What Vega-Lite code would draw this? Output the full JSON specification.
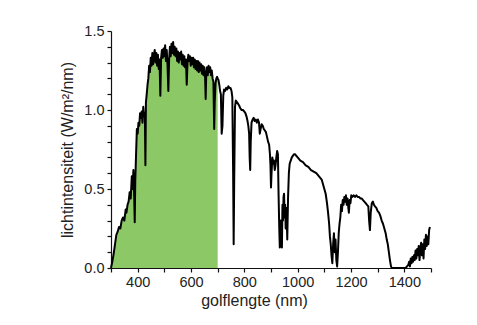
{
  "$schema": "https://vega.github.io/schema/vega-lite/v6.json",
  "width": 320,
  "height": 237,
  "autosize": {"type": "none"},
  "padding": {"left": 111, "top": 31, "right": 46, "bottom": 57},
  "background": "white",
  "config": {
    "view": {"stroke": null},
    "font": "Liberation Sans",
    "axis": {
      "grid": false,
      "domainColor": "#111",
      "domainWidth": 1.2,
      "tickColor": "#111",
      "tickWidth": 1.2,
      "tickSize": 4,
      "labelFont": "Liberation Sans",
      "labelFontSize": 14.5,
      "labelColor": "#222",
      "labelOverlap": false,
      "labelFlush": false,
      "titleFont": "Liberation Sans",
      "titleFontSize": 16,
      "titleFontWeight": "normal",
      "titleColor": "#222"
    }
  },
  "data": {
    "values": [
      {"nm":300,"v":0.0},{"nm":305,"v":0.04},{"nm":310,"v":0.09},{"nm":315,"v":0.15},{"nm":320,"v":0.21},{"nm":325,"v":0.23},{"nm":330,"v":0.26},{"nm":335,"v":0.25},{"nm":340,"v":0.30},{"nm":345,"v":0.32},{"nm":350,"v":0.30},{"nm":355,"v":0.37},{"nm":358,"v":0.35},{"nm":362,"v":0.40},{"nm":366,"v":0.42},{"nm":370,"v":0.48},{"nm":374,"v":0.44},{"nm":378,"v":0.58},{"nm":381,"v":0.50},{"nm":384,"v":0.62},{"nm":387,"v":0.45},{"nm":389,"v":0.29},{"nm":391,"v":0.55},{"nm":394,"v":0.72},{"nm":397,"v":0.88},{"nm":400,"v":0.85},{"nm":403,"v":0.92},{"nm":406,"v":0.90},{"nm":409,"v":0.98},{"nm":412,"v":0.95},{"nm":415,"v":0.99},{"nm":418,"v":0.92},{"nm":421,"v":1.02},{"nm":424,"v":0.96},{"nm":427,"v":0.98},{"nm":429,"v":0.65},{"nm":431,"v":1.05},{"nm":434,"v":1.10},{"nm":437,"v":1.16},{"nm":440,"v":1.20},{"nm":443,"v":1.28},{"nm":446,"v":1.24},{"nm":449,"v":1.33},{"nm":452,"v":1.28},{"nm":455,"v":1.36},{"nm":458,"v":1.29},{"nm":461,"v":1.35},{"nm":464,"v":1.38},{"nm":467,"v":1.30},{"nm":470,"v":1.36},{"nm":473,"v":1.28},{"nm":476,"v":1.35},{"nm":479,"v":1.26},{"nm":482,"v":1.32},{"nm":485,"v":1.09},{"nm":488,"v":1.33},{"nm":491,"v":1.38},{"nm":494,"v":1.33},{"nm":497,"v":1.39},{"nm":500,"v":1.34},{"nm":503,"v":1.41},{"nm":506,"v":1.31},{"nm":509,"v":1.38},{"nm":512,"v":1.28},{"nm":515,"v":1.12},{"nm":518,"v":1.32},{"nm":521,"v":1.40},{"nm":524,"v":1.34},{"nm":527,"v":1.42},{"nm":530,"v":1.36},{"nm":533,"v":1.43},{"nm":536,"v":1.35},{"nm":539,"v":1.40},{"nm":542,"v":1.34},{"nm":545,"v":1.39},{"nm":548,"v":1.31},{"nm":551,"v":1.37},{"nm":554,"v":1.30},{"nm":557,"v":1.36},{"nm":560,"v":1.32},{"nm":563,"v":1.37},{"nm":566,"v":1.29},{"nm":569,"v":1.35},{"nm":572,"v":1.28},{"nm":575,"v":1.34},{"nm":578,"v":1.27},{"nm":581,"v":1.32},{"nm":584,"v":1.16},{"nm":587,"v":1.30},{"nm":590,"v":1.35},{"nm":593,"v":1.31},{"nm":596,"v":1.34},{"nm":599,"v":1.28},{"nm":602,"v":1.33},{"nm":605,"v":1.29},{"nm":608,"v":1.33},{"nm":611,"v":1.27},{"nm":614,"v":1.32},{"nm":617,"v":1.26},{"nm":620,"v":1.31},{"nm":623,"v":1.25},{"nm":626,"v":1.31},{"nm":629,"v":1.24},{"nm":632,"v":1.30},{"nm":635,"v":1.25},{"nm":638,"v":1.29},{"nm":641,"v":1.23},{"nm":644,"v":1.28},{"nm":647,"v":1.22},{"nm":650,"v":1.27},{"nm":653,"v":1.20},{"nm":655,"v":1.07},{"nm":657,"v":1.22},{"nm":660,"v":1.27},{"nm":663,"v":1.22},{"nm":666,"v":1.28},{"nm":669,"v":1.24},{"nm":672,"v":1.27},{"nm":675,"v":1.22},{"nm":678,"v":1.25},{"nm":681,"v":1.20},{"nm":684,"v":1.18},{"nm":687,"v":0.88},{"nm":689,"v":1.05},{"nm":692,"v":1.17},{"nm":695,"v":1.20},{"nm":698,"v":1.21},{"nm":700,"v":1.20},{"nm":703,"v":1.19},{"nm":706,"v":1.16},{"nm":709,"v":1.12},{"nm":712,"v":1.10},{"nm":715,"v":0.85},{"nm":718,"v":0.90},{"nm":721,"v":1.09},{"nm":724,"v":1.13},{"nm":728,"v":1.12},{"nm":732,"v":1.14},{"nm":736,"v":1.13},{"nm":740,"v":1.15},{"nm":744,"v":1.14},{"nm":748,"v":1.14},{"nm":752,"v":1.12},{"nm":755,"v":1.08},{"nm":758,"v":0.60},{"nm":760,"v":0.15},{"nm":762,"v":0.55},{"nm":765,"v":1.02},{"nm":768,"v":1.06},{"nm":772,"v":1.05},{"nm":776,"v":1.04},{"nm":780,"v":1.03},{"nm":785,"v":1.01},{"nm":790,"v":1.00},{"nm":795,"v":1.00},{"nm":800,"v":0.99},{"nm":804,"v":0.98},{"nm":808,"v":0.96},{"nm":812,"v":0.93},{"nm":815,"v":0.90},{"nm":818,"v":0.85},{"nm":820,"v":0.70},{"nm":822,"v":0.62},{"nm":824,"v":0.80},{"nm":827,"v":0.92},{"nm":831,"v":0.94},{"nm":835,"v":0.95},{"nm":839,"v":0.93},{"nm":843,"v":0.94},{"nm":847,"v":0.92},{"nm":851,"v":0.94},{"nm":855,"v":0.92},{"nm":858,"v":0.85},{"nm":861,"v":0.88},{"nm":865,"v":0.91},{"nm":869,"v":0.90},{"nm":873,"v":0.88},{"nm":877,"v":0.87},{"nm":881,"v":0.86},{"nm":885,"v":0.83},{"nm":889,"v":0.80},{"nm":893,"v":0.78},{"nm":896,"v":0.72},{"nm":898,"v":0.65},{"nm":900,"v":0.51},{"nm":902,"v":0.60},{"nm":905,"v":0.70},{"nm":908,"v":0.66},{"nm":911,"v":0.68},{"nm":914,"v":0.62},{"nm":917,"v":0.65},{"nm":920,"v":0.70},{"nm":923,"v":0.74},{"nm":926,"v":0.72},{"nm":928,"v":0.50},{"nm":931,"v":0.25},{"nm":933,"v":0.13},{"nm":935,"v":0.14},{"nm":937,"v":0.30},{"nm":939,"v":0.18},{"nm":941,"v":0.13},{"nm":943,"v":0.40},{"nm":945,"v":0.30},{"nm":947,"v":0.45},{"nm":949,"v":0.47},{"nm":951,"v":0.32},{"nm":953,"v":0.40},{"nm":955,"v":0.25},{"nm":958,"v":0.38},{"nm":961,"v":0.18},{"nm":964,"v":0.45},{"nm":967,"v":0.60},{"nm":970,"v":0.66},{"nm":974,"v":0.68},{"nm":978,"v":0.70},{"nm":982,"v":0.71},{"nm":986,"v":0.72},{"nm":990,"v":0.72},{"nm":995,"v":0.71},{"nm":1000,"v":0.70},{"nm":1010,"v":0.68},{"nm":1020,"v":0.67},{"nm":1030,"v":0.65},{"nm":1040,"v":0.64},{"nm":1050,"v":0.62},{"nm":1060,"v":0.61},{"nm":1070,"v":0.60},{"nm":1080,"v":0.58},{"nm":1090,"v":0.56},{"nm":1095,"v":0.53},{"nm":1100,"v":0.50},{"nm":1105,"v":0.47},{"nm":1110,"v":0.41},{"nm":1114,"v":0.35},{"nm":1118,"v":0.28},{"nm":1121,"v":0.20},{"nm":1124,"v":0.15},{"nm":1127,"v":0.08},{"nm":1130,"v":0.03},{"nm":1133,"v":0.15},{"nm":1136,"v":0.22},{"nm":1139,"v":0.10},{"nm":1142,"v":0.18},{"nm":1145,"v":0.05},{"nm":1148,"v":0.01},{"nm":1151,"v":0.10},{"nm":1154,"v":0.22},{"nm":1157,"v":0.28},{"nm":1160,"v":0.32},{"nm":1163,"v":0.40},{"nm":1166,"v":0.36},{"nm":1169,"v":0.43},{"nm":1172,"v":0.40},{"nm":1175,"v":0.45},{"nm":1178,"v":0.42},{"nm":1181,"v":0.46},{"nm":1184,"v":0.40},{"nm":1187,"v":0.44},{"nm":1190,"v":0.38},{"nm":1192,"v":0.35},{"nm":1195,"v":0.43},{"nm":1198,"v":0.41},{"nm":1201,"v":0.46},{"nm":1205,"v":0.45},{"nm":1210,"v":0.46},{"nm":1215,"v":0.45},{"nm":1220,"v":0.46},{"nm":1225,"v":0.45},{"nm":1230,"v":0.45},{"nm":1235,"v":0.44},{"nm":1240,"v":0.44},{"nm":1245,"v":0.43},{"nm":1250,"v":0.42},{"nm":1255,"v":0.41},{"nm":1260,"v":0.40},{"nm":1265,"v":0.39},{"nm":1268,"v":0.30},{"nm":1271,"v":0.24},{"nm":1274,"v":0.35},{"nm":1278,"v":0.41},{"nm":1282,"v":0.42},{"nm":1286,"v":0.40},{"nm":1290,"v":0.39},{"nm":1295,"v":0.38},{"nm":1300,"v":0.36},{"nm":1305,"v":0.35},{"nm":1310,"v":0.33},{"nm":1315,"v":0.30},{"nm":1320,"v":0.28},{"nm":1325,"v":0.25},{"nm":1330,"v":0.22},{"nm":1334,"v":0.18},{"nm":1338,"v":0.15},{"nm":1342,"v":0.10},{"nm":1346,"v":0.05},{"nm":1350,"v":0.01},{"nm":1353,"v":0.0},{"nm":1405,"v":0.0},{"nm":1410,"v":0.01},{"nm":1415,"v":0.02},{"nm":1418,"v":0.04},{"nm":1421,"v":0.01},{"nm":1424,"v":0.06},{"nm":1427,"v":0.03},{"nm":1430,"v":0.07},{"nm":1433,"v":0.04},{"nm":1436,"v":0.08},{"nm":1439,"v":0.05},{"nm":1442,"v":0.11},{"nm":1445,"v":0.06},{"nm":1448,"v":0.12},{"nm":1451,"v":0.08},{"nm":1454,"v":0.14},{"nm":1457,"v":0.05},{"nm":1460,"v":0.12},{"nm":1463,"v":0.16},{"nm":1466,"v":0.08},{"nm":1469,"v":0.15},{"nm":1472,"v":0.06},{"nm":1475,"v":0.18},{"nm":1478,"v":0.12},{"nm":1481,"v":0.21},{"nm":1484,"v":0.14},{"nm":1487,"v":0.20},{"nm":1490,"v":0.15},{"nm":1493,"v":0.24},{"nm":1496,"v":0.26}
    ]
  },
  "encoding": {
    "x": {
      "field": "nm", "type": "quantitative",
      "scale": {"domain": [300, 1500], "nice": false, "zero": false},
      "axis": {
        "title": "golflengte (nm)",
        "values": [300,400,500,600,700,800,900,1000,1100,1200,1300,1400,1500],
        "labelExpr": "datum.value % 200 == 0 ? datum.label : ''",
        "format": "d",
        "labelPadding": 3,
        "titlePadding": 4,
        "titleX": 143
      }
    },
    "y": {
      "field": "v", "type": "quantitative",
      "scale": {"domain": [0, 1.5], "nice": false},
      "axis": {
        "title": "lichtintensiteit (W/m²/nm)",
        "values": [0,0.1,0.2,0.3,0.4,0.5,0.6,0.7,0.8,0.9,1.0,1.1,1.2,1.3,1.4,1.5],
        "labelExpr": "abs(datum.value*2 - round(datum.value*2)) < 0.001 ? format(datum.value, '.1f') : ''",
        "labelPadding": 3,
        "titlePadding": 8
      }
    }
  },
  "layer": [
    {
      "transform": [{"filter": "datum.nm <= 700"}],
      "mark": {"type": "area", "color": "#8cc865", "opacity": 1}
    },
    {
      "mark": {"type": "line", "color": "#000", "strokeWidth": 2, "strokeJoin": "round"}
    }
  ]
}
